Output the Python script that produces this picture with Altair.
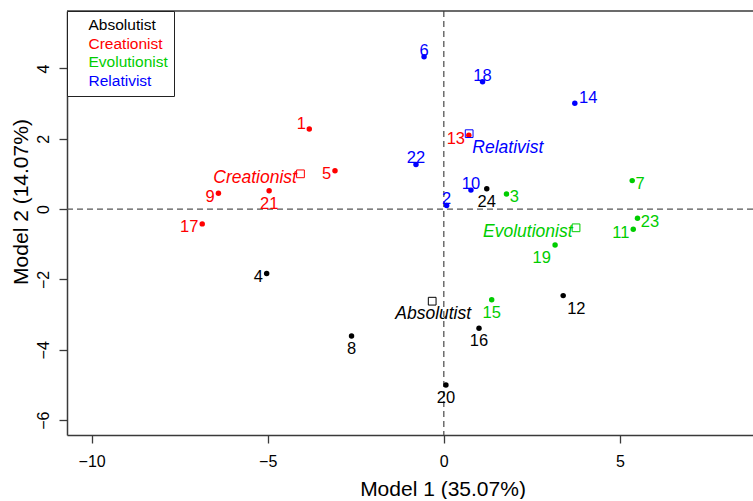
import altair as alt
import pandas as pd

# ---- data ----
ids = ["1", "2", "3", "4", "5", "6", "7", "8", "9", "10", "11", "12",
       "13", "14", "15", "16", "17", "18", "19", "20", "21", "22", "23", "24"]
model1 = [-3.82, 0.08, 1.78, -5.03, -3.09, -0.56, 5.35, -2.62, -6.40, 0.77, 5.38, 3.39,
          0.71, 3.72, 1.36, 1.00, -6.86, 1.10, 3.16, 0.06, -4.96, -0.79, 5.50, 1.22]
model2 = [2.28, 0.10, 0.43, -1.83, 1.09, 4.33, 0.81, -3.61, 0.45, 0.54, -0.57, -2.46,
          2.10, 3.01, -2.58, -3.39, -0.42, 3.62, -1.02, -5.00, 0.52, 1.27, -0.26, 0.58]
groups = ["Creationist", "Relativist", "Evolutionist", "Absolutist",
          "Creationist", "Relativist", "Evolutionist", "Absolutist",
          "Creationist", "Relativist", "Evolutionist", "Absolutist",
          "Creationist", "Relativist", "Evolutionist", "Absolutist",
          "Creationist", "Relativist", "Evolutionist", "Absolutist",
          "Creationist", "Relativist", "Evolutionist", "Absolutist"]
# where each point's label sits relative to the point (compass direction)
label_pos = ["NW", "N", "E", "W", "W", "N", "E", "S", "W", "N", "W", "SE",
             "W", "NE", "S", "S", "W", "N", "SW", "S", "S", "N", "E", "S"]

group_names = ["Absolutist", "Creationist", "Evolutionist", "Relativist"]
group_colors = ["#000000", "#FF0000", "#00CD00", "#0000FF"]
group_label_pos = ["S", "W", "W", "SE"]

x_ticks = [-10, -5, 0, 5]
y_ticks = [-6, -4, -2, 0, 2, 4]

# ---- tables ----
df = pd.DataFrame({"id": ids, "m1": model1, "m2": model2, "group": groups, "pos": label_pos})
cent = df.groupby("group", as_index=False)[["m1", "m2"]].mean()
cent["pos"] = cent["group"].map(dict(zip(group_names, group_label_pos)))

FONT = "Liberation Sans"
AX = "#3a3a3a"

x_scale = alt.Scale(domain=[-10.70, 8.78], nice=False, zero=False)
y_scale = alt.Scale(domain=[-6.423, 5.633], nice=False, zero=False)
color_scale = alt.Scale(domain=group_names, range=group_colors)

x_axis = alt.Axis(values=x_ticks, title="Model 1 (35.07%)", grid=False,
                  tickSize=8, tickWidth=1.3, tickColor=AX,
                  domainColor=AX, domainWidth=1.5,
                  labelFontSize=16, labelColor="black", labelPadding=23.7,
                  labelBaseline="alphabetic", labelFlush=False, labelOverlap=False,
                  titleFontSize=21, titleFontWeight="normal", titleColor="black",
                  titleX=375.5, titleY=60, titleAlign="center", titleBaseline="alphabetic")
y_axis = alt.Axis(values=y_ticks, title="Model 2 (14.07%)", grid=False,
                  tickSize=8, tickWidth=1.3, tickColor=AX,
                  domainColor=AX, domainWidth=1.5,
                  labelFontSize=16, labelColor="black", labelPadding=10.3,
                  labelAngle=270, labelAlign="center", labelBaseline="alphabetic",
                  labelFlush=False, labelOverlap=False,
                  titleFontSize=21, titleFontWeight="normal", titleColor="black",
                  titleAngle=270, titleX=-39.5, titleY=190.5, titleAlign="center",
                  titleBaseline="alphabetic")

X = alt.X("m1:Q", scale=x_scale, axis=x_axis)
Y = alt.Y("m2:Q", scale=y_scale, axis=y_axis)

legend_color_expr = ("datum.label == 'Absolutist' ? '#000000' : "
                     "datum.label == 'Creationist' ? '#FF0000' : "
                     "datum.label == 'Evolutionist' ? '#00CD00' : '#0000FF'")

legend = alt.Legend(title=None, orient="none", legendX=0, legendY=0,
                    padding=6, strokeColor="#222222", fillColor="white",
                    symbolOpacity=0, symbolSize=100, symbolStrokeWidth=0,
                    labelOffset=0, labelFontSize=15.5, labelFont=FONT,
                    rowPadding=1.8,
                    labelColor=alt.ExprRef(expr=legend_color_expr))

COLOR = alt.Color("group:N", scale=color_scale, legend=legend)

# dashed reference lines at zero
vline = alt.Chart(pd.DataFrame({"m1": [0]})).mark_rule(
    color="#555555", strokeWidth=1.3, strokeDash=[6, 4]).encode(x=X)
hline = alt.Chart(pd.DataFrame({"m2": [0]})).mark_rule(
    color="#555555", strokeWidth=1.3, strokeDash=[6, 4]).encode(y=Y)
# top edge of the plot box
top_line = alt.Chart(pd.DataFrame({"m2": [0]})).mark_rule(
    color=AX, strokeWidth=1.5).encode(y=alt.value(0))

points = alt.Chart(df).mark_circle(size=30, opacity=1).encode(
    x=X, y=Y, color=COLOR)

squares = alt.Chart(cent).mark_point(shape="square", filled=False, size=60,
                                     strokeWidth=1, opacity=1).encode(
    x=X, y=Y, color=COLOR)

# label offsets by compass direction: (align, dx, dy)
OFFS = {
    "N": ("center", 0, -6.2),
    "S": ("center", 0, 12.9),
    "W": ("right", -3.8, 3.4),
    "E": ("left", 3.3, 3.3),
    "NE": ("left", 4.3, -5.6),
    "NW": ("right", -3.4, -4.7),
    "SE": ("left", 4.0, 13.0),
    "SW": ("right", -4.2, 12.7),
}
G_OFFS = {
    "S": ("center", 1, 13.3),
    "W": ("right", -3.5, 4.0),
    "SE": ("left", 3.2, 14.4),
}

layers = [vline, hline, top_line, points, squares]
for p, (al, dx, dy) in OFFS.items():
    sub = df[df["pos"] == p]
    if len(sub) == 0:
        continue
    layers.append(alt.Chart(sub).mark_text(
        align=al, baseline="middle", dx=dx, dy=dy, fontSize=16.5, font=FONT).encode(
        x=X, y=Y, text="id:N", color=COLOR))
for p, (al, dx, dy) in G_OFFS.items():
    sub = cent[cent["pos"] == p]
    if len(sub) == 0:
        continue
    layers.append(alt.Chart(sub).mark_text(
        align=al, baseline="middle", dx=dx, dy=dy, fontSize=17.5, font=FONT,
        fontStyle="italic").encode(
        x=X, y=Y, text="group:N", color=COLOR))

chart = alt.layer(*layers).properties(
    width=686, height=424,
    padding={"left": 67, "top": 11, "right": 0, "bottom": 64},
    autosize=alt.AutoSizeParams(type="none"),
).configure(font=FONT).configure_view(strokeOpacity=0)

chart.save("out.html", embed_options={"renderer": "svg", "actions": False})
